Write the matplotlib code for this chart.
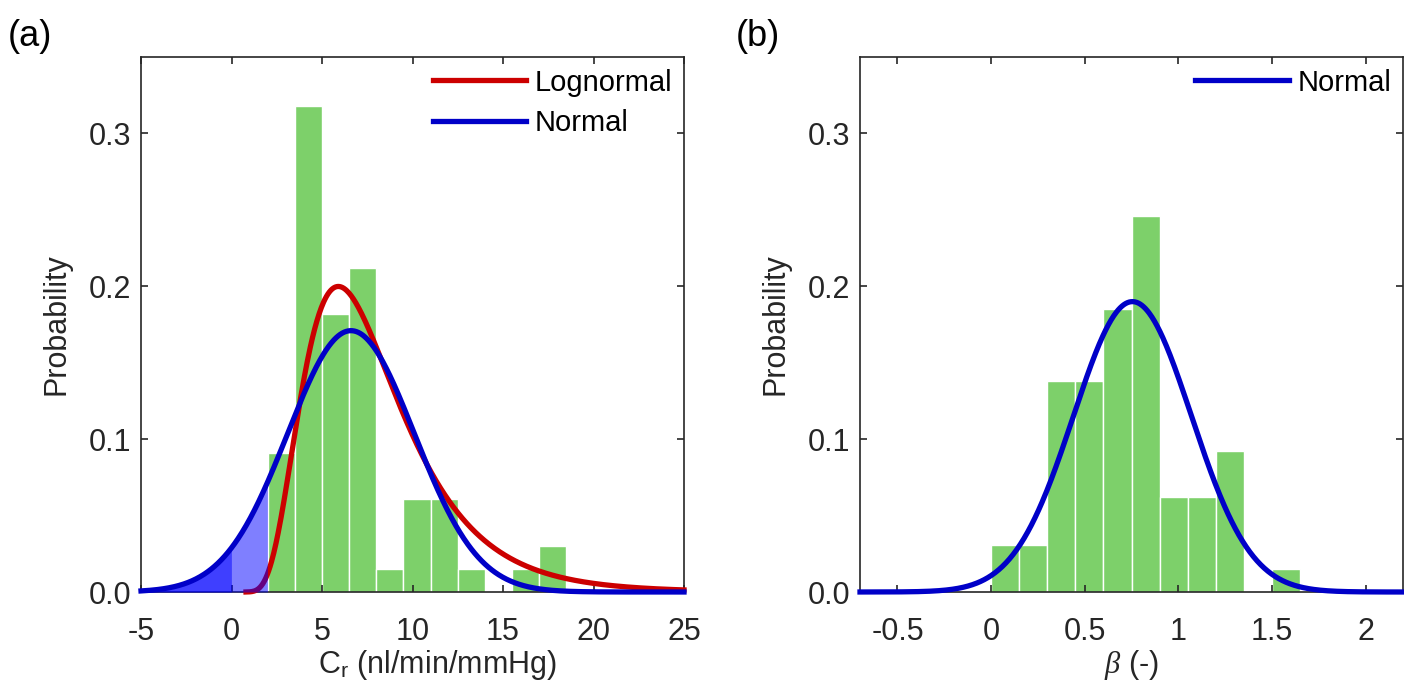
import matplotlib
matplotlib.use("Agg")
import matplotlib.pyplot as plt
import numpy as np

plt.rcParams['font.family'] = ['Liberation Sans', 'DejaVu Sans']
plt.rcParams['mathtext.fontset'] = 'custom'
plt.rcParams['mathtext.rm'] = 'Liberation Sans'
plt.rcParams['mathtext.it'] = 'Liberation Serif:italic'
plt.rcParams['axes.unicode_minus'] = False

# panel (a): C_r histogram (probability per bin)
cr_left_edges = [2.0, 3.5, 5.0, 6.5, 8.0, 9.5, 11.0, 12.5, 14.0, 15.5, 17.0]
cr_prob = [0.091, 0.318, 0.182, 0.212, 0.015, 0.061, 0.061, 0.015, 0.0, 0.015, 0.030]
cr_bin_width = 1.5
cr_norm_mean, cr_norm_sd = 6.6, 3.5
cr_logn_mu, cr_logn_sigma = 1.984, 0.457
cr_xticks = [-5, 0, 5, 10, 15, 20, 25]

# panel (b): beta histogram
beta_left_edges = [0.0, 0.15, 0.30, 0.45, 0.60, 0.75, 0.90, 1.05, 1.20, 1.35, 1.50]
beta_prob = [0.031, 0.031, 0.138, 0.138, 0.185, 0.246, 0.062, 0.062, 0.092, 0.0, 0.015]
beta_bin_width = 0.15
beta_norm_mean, beta_norm_sd = 0.755, 0.315
beta_xticks = [-0.5, 0, 0.5, 1, 1.5, 2]
beta_xticklabels = ['-0.5', '0', '0.5', '1', '1.5', '2']

yticks = [0.0, 0.1, 0.2, 0.3]
yticklabels = ['0.0', '0.1', '0.2', '0.3']

GREEN = '#7dd06a'
BLUE = '#0000c8'
RED = '#cc0000'
FS = 22


def normal_prob(x, m, s, w):
    return w * np.exp(-(x - m) ** 2 / (2 * s ** 2)) / (s * np.sqrt(2 * np.pi))


def logn_prob(x, mu, sg, w):
    return w * np.exp(-(np.log(x) - mu) ** 2 / (2 * sg ** 2)) / (x * sg * np.sqrt(2 * np.pi))


def style(ax):
    for sp in ax.spines.values():
        sp.set_color('#262626')
        sp.set_linewidth(1.2)
    ax.tick_params(direction='in', length=5, width=1.2, top=True, right=True,
                   labelsize=FS, colors='#262626', labelcolor='#262626')
    ax.tick_params(axis='x', pad=18)
    ax.tick_params(axis='y', pad=7)
    ax.set_yticks(yticks)
    ax.set_yticklabels(yticklabels)
    ax.set_ylim(0, 0.35)
    ax.set_ylabel('Probability', fontsize=FS, color='#262626', labelpad=12)


fig = plt.figure(figsize=(14.04, 6.98), dpi=100)
ax1 = fig.add_axes([141 / 1404, 106 / 698, 543 / 1404, 535 / 698])
ax2 = fig.add_axes([860 / 1404, 106 / 698, 543 / 1404, 535 / 698])

# (a)
ax1.bar(cr_left_edges, cr_prob, width=cr_bin_width, align='edge',
        color=GREEN, edgecolor='white', linewidth=1, zorder=1)
xl = np.linspace(0.8, 25, 600)
ax1.plot(xl, logn_prob(xl, cr_logn_mu, cr_logn_sigma, cr_bin_width),
         color=RED, lw=3.8, label='Lognormal', zorder=3, clip_on=False)
xn = np.linspace(-5, 25, 800)
yn = normal_prob(xn, cr_norm_mean, cr_norm_sd, cr_bin_width)
ax1.fill_between(xn, 0, yn, where=xn <= 2.0, color='#0000ff', alpha=0.5,
                 linewidth=0, zorder=4)
ax1.fill_between(xn, 0, yn, where=xn <= 0.0, color='#0000ff', alpha=0.5,
                 linewidth=0, zorder=4)
ax1.plot(xn, yn, color=BLUE, lw=3.8, label='Normal', zorder=5, clip_on=False)
style(ax1)
ax1.set_xlim(-5, 25)
ax1.set_xticks(cr_xticks)
ax1.set_xticklabels([str(t) for t in cr_xticks])
ax1.set_xlabel(r'C$_\mathrm{r}$ (nl/min/mmHg)', fontsize=FS, color='#262626')
ax1.xaxis.set_label_coords(0.545, -0.105)
ax1.legend(loc='upper right', frameon=False, fontsize=21, handlelength=3.2,
           handletextpad=0.3, labelspacing=0.42, borderaxespad=0.0,
           bbox_to_anchor=(1.0, 1.0))
fig.text(8 / 1404, 1 - 36 / 698, '(a)', fontsize=26, va='center', ha='left')

# (b)
ax2.bar(beta_left_edges, beta_prob, width=beta_bin_width, align='edge',
        color=GREEN, edgecolor='white', linewidth=1, zorder=1)
xb = np.linspace(-0.7, 2.2, 600)
ax2.plot(xb, normal_prob(xb, beta_norm_mean, beta_norm_sd, beta_bin_width),
         color=BLUE, lw=3.8, label='Normal', zorder=5, clip_on=False)
style(ax2)
ax2.set_xlim(-0.7, 2.2)
ax2.set_xticks(beta_xticks)
ax2.set_xticklabels(beta_xticklabels)
ax2.set_xlabel(r'$\it{\beta}$ (-)', fontsize=FS, color='#262626')
ax2.xaxis.set_label_coords(0.5, -0.105)
ax2.legend(loc='upper right', frameon=False, fontsize=21, handlelength=3.2,
           handletextpad=0.3, borderaxespad=0.0, bbox_to_anchor=(1.0, 1.0))
fig.text(736 / 1404, 1 - 36 / 698, '(b)', fontsize=26, va='center', ha='left')

fig.savefig('out.png', dpi=100)
